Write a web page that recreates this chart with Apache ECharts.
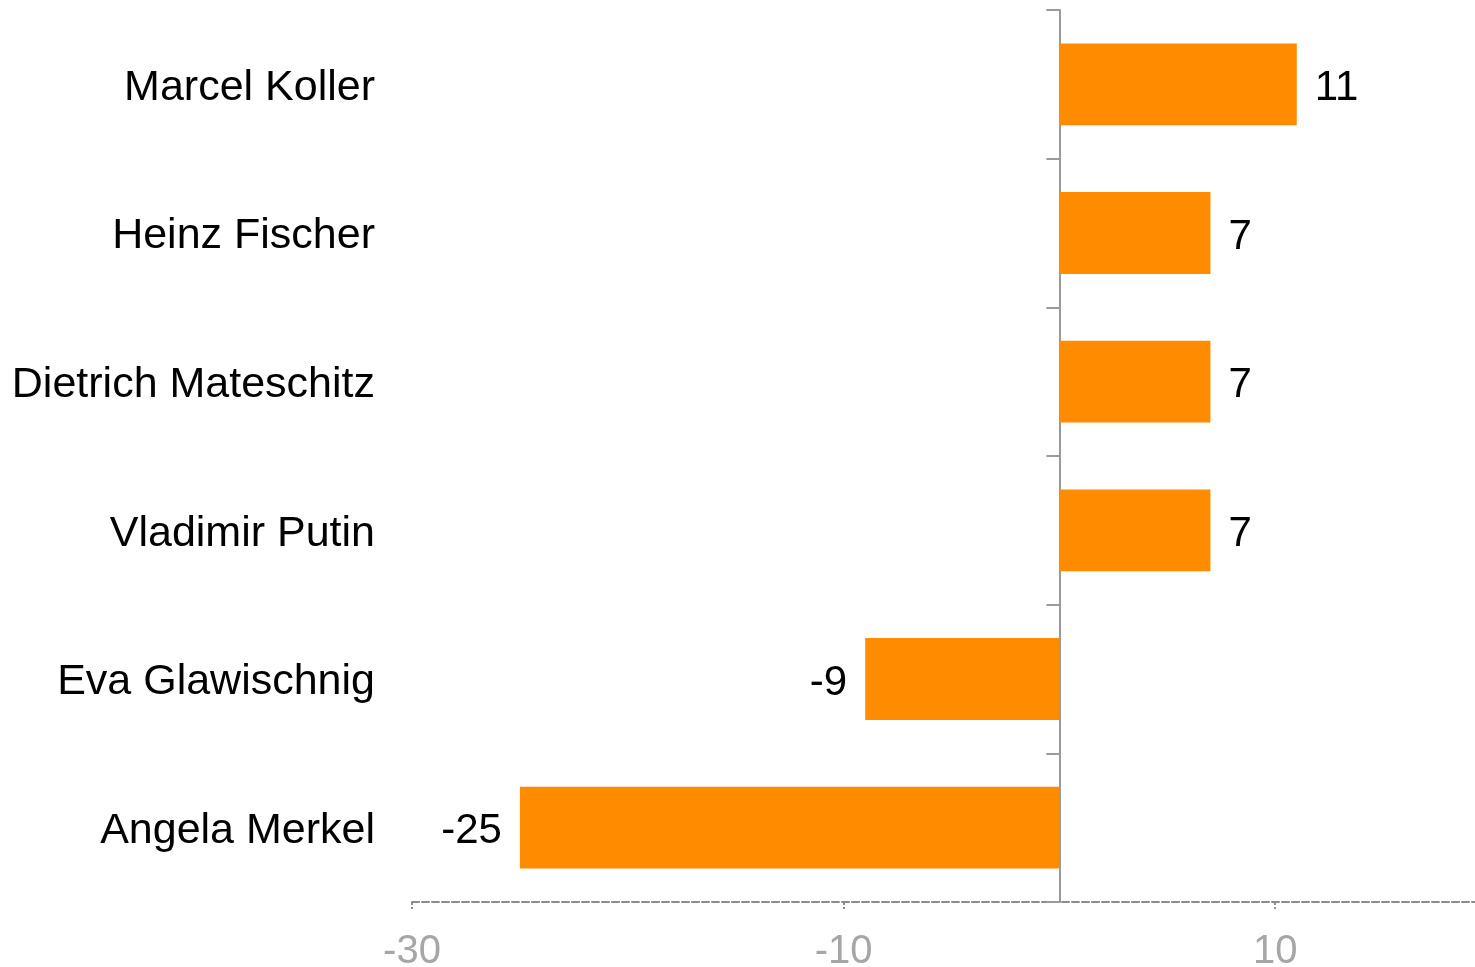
<!DOCTYPE html>
<html>
<head>
<meta charset="utf-8">
<script src="https://cdn.jsdelivr.net/npm/echarts@6/dist/echarts.min.js"></script>
<style>
html,body{margin:0;padding:0;background:#fff;}
#chart{width:1475px;height:967px;}
</style>
</head>
<body>
<div id="chart"></div>
<script>
// Data (top to bottom)
const categories = ['Marcel Koller', 'Heinz Fischer', 'Dietrich Mateschitz', 'Vladimir Putin', 'Eva Glawischnig', 'Angela Merkel'];
const values = [11, 7, 7, 7, -9, -25];
const axisMin = -30;
const axisMax = 20;
const axisInterval = 20;

const FONT = "'Liberation Sans', Arial, sans-serif";
const chart = echarts.init(document.getElementById('chart'));

const seriesData = values.map(v => ({
  value: v,
  label: { position: v < 0 ? 'left' : 'right' }
}));

chart.setOption({
  animation: false,
  backgroundColor: '#ffffff',
  grid: { left: 412, width: 1079, top: 10, bottom: 65, containLabel: false, outerBoundsMode: 'none' },
  xAxis: {
    type: 'value',
    min: axisMin,
    max: axisMax,
    interval: axisInterval,
    splitLine: { show: false },
    axisLine: { show: true, onZero: false, lineStyle: { color: '#8c8c8c', width: 2, type: [7, 3] } },
    axisTick: { show: true, length: 7, lineStyle: { color: '#8c8c8c', width: 2, type: [3, 2] } },
    axisLabel: { color: '#a6a6a6', fontSize: 40, fontFamily: FONT, margin: 30, showMaxLabel: false }
  },
  yAxis: [
    {
      type: 'category',
      data: categories,
      inverse: true,
      axisLine: { show: true, onZero: true, lineStyle: { color: '#9a9a9a', width: 2 } },
      axisTick: { show: true, length: 13, lineStyle: { color: '#9a9a9a', width: 2 } },
      axisLabel: { show: false }
    },
    {
      type: 'category',
      data: categories,
      inverse: true,
      position: 'left',
      axisLine: { show: false, onZero: false },
      axisTick: { show: false },
      axisLabel: {
        color: '#000000', fontSize: 43, fontFamily: FONT, margin: 37,
        formatter: v => '{n|' + v + '}',
        rich: { n: { fontSize: 43, fontFamily: FONT, color: '#000000', padding: [7, 0, 0, 0] } }
      }
    }
  ],
  series: [{
    type: 'bar',
    yAxisIndex: 0,
    data: seriesData,
    barCategoryGap: '45%',
    itemStyle: { color: '#FF8C00' },
    label: { show: true, color: '#000000', fontSize: 42, fontFamily: FONT, distance: 18, offset: [0, 4] }
  }]
});
</script>
</body>
</html>
